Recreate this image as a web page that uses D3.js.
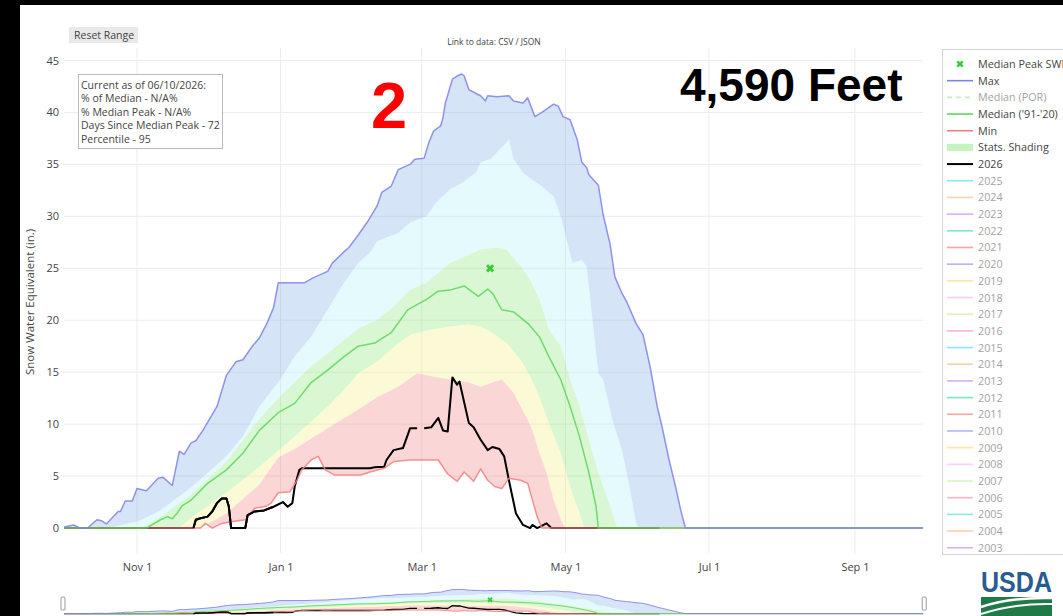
<!DOCTYPE html>
<html><head><meta charset="utf-8">
<script src="https://cdn.jsdelivr.net/npm/d3@7"></script>
<style>body{margin:0;background:#000;}svg{display:block;}</style>
</head><body>
<svg id="chart" width="1063" height="616"></svg>
<script>
// ---------------- DATA (water-year dates "MM-DD", SWE inches) ----------------
const tickDates = ["11-01","01-01","03-01","05-01","07-01","09-01"];
const yTicks = [0,5,10,15,20,25,30,35,40,45];

const maxSWE = [["10-01",0.1],["10-05",0.3],["10-08",0],["10-11",0],["10-15",0.8],["10-17",0.7],["10-19",0.4],["10-24",1.6],["10-25",1.6],["10-27",2.6],["10-30",2.6],["11-01",3.8],["11-05",3.6],["11-10",4.8],["11-12",4.9],["11-16",4.1],["11-19",7.4],["11-21",7.1],["11-24",8.2],["11-26",8.4],["11-29",9.4],["12-05",11.7],["12-09",14.7],["12-13",16.0],["12-16",16.2],["12-20",17.5],["12-23",18.3],["12-26",19.6],["12-29",21.2],["12-31",23.6],["01-11",23.6],["01-15",24.1],["01-21",24.7],["01-23",25.5],["01-28",26.6],["01-30",27.0],["02-03",28.2],["02-07",29.5],["02-11",31.0],["02-13",32.3],["02-17",32.9],["02-20",34.5],["02-25",35.0],["02-27",35.5],["03-02",35.6],["03-04",37.1],["03-06",38.2],["03-09",38.7],["03-10",39.5],["03-11",40.9],["03-14",43.2],["03-16",43.5],["03-18",43.7],["03-19",43.5],["03-21",42.2],["03-25",41.7],["03-26",41.6],["03-28",41.1],["03-29",41.6],["04-02",41.5],["04-07",41.6],["04-09",41.1],["04-13",40.9],["04-15",41.4],["04-18",39.6],["04-21",40.0],["04-26",40.8],["04-28",40.6],["04-30",39.6],["05-03",39.3],["05-06",37.4],["05-08",35.2],["05-10",34.7],["05-11",34.0],["05-15",33.0],["05-17",30.2],["05-20",27.3],["05-22",24.2],["05-25",22.6],["05-27",21.8],["05-31",19.7],["06-03",18.6],["06-06",15.5],["06-09",11.7],["06-11",9.8],["06-14",6.6],["06-17",3.8],["06-19",1.7],["06-21",0],["09-30",0]];

const pct90 = [["10-01",0],["10-20",0],["11-02",0.7],["11-11",1.7],["11-24",3.9],["12-09",6.9],["12-16",8.8],["12-23",11.7],["12-31",14.0],["01-07",16.5],["01-14",18.4],["01-21",21.0],["01-28",23.6],["02-03",25.5],["02-08",26.5],["02-11",27.6],["02-20",28.4],["02-25",29.4],["03-03",30.0],["03-07",31.3],["03-13",32.6],["03-18",33.2],["03-24",34.2],["03-26",35.2],["03-30",35.5],["04-03",36.4],["04-06",37.1],["04-07",37.4],["04-09",35.5],["04-13",34.2],["04-17",33.5],["04-21",32.9],["04-24",32.3],["04-26",31.9],["04-29",30.0],["05-04",25.5],["05-08",25.8],["05-10",25.2],["05-15",14.9],["05-17",14.3],["05-21",10.4],["05-25",7.5],["05-28",4.3],["05-31",0.5],["06-01",0],["09-30",0]];

const pct70 = [["10-01",0],["11-03",0],["11-11",1.1],["11-24",3.2],["12-09",6.4],["12-23",10.5],["12-31",12.5],["01-14",15.6],["01-21",16.8],["02-03",19.2],["02-11",20.0],["02-18",21.3],["02-25",22.9],["03-03",23.6],["03-13",25.5],["03-26",26.8],["04-02",27.0],["04-06",26.8],["04-12",25.2],["04-16",23.9],["04-20",22.0],["04-24",19.1],["04-29",17.5],["05-03",14.3],["05-07",11.7],["05-11",8.5],["05-15",5.3],["05-20",2.1],["05-23",0],["09-30",0]];

const medianSWE = [["10-01",0],["11-05",0],["11-11",0.8],["11-14",1.1],["11-16",0.9],["11-18",1.4],["11-20",2.1],["11-24",2.7],["12-01",4.3],["12-09",5.6],["12-16",7.2],["12-23",9.4],["12-31",11.1],["01-07",12.0],["01-14",14.0],["01-21",15.2],["01-28",16.5],["02-03",17.5],["02-10",17.8],["02-17",18.8],["02-24",21.0],["03-03",22.0],["03-08",22.8],["03-13",22.9],["03-19",23.3],["03-25",22.3],["03-29",23.0],["03-31",22.6],["04-04",21.0],["04-09",20.8],["04-15",19.7],["04-20",18.4],["04-24",16.5],["04-29",14.3],["05-03",11.7],["05-07",8.8],["05-11",5.3],["05-14",2.1],["05-15",0],["09-30",0]];

const pct30 = [["10-01",0],["11-19",0],["11-24",1.0],["12-09",3.4],["12-23",5.9],["01-07",8.8],["01-21",11.7],["01-28",13.3],["02-03",14.9],["02-11",16.0],["02-18",17.4],["02-25",18.6],["03-05",19.1],["03-13",19.4],["03-21",19.6],["03-26",19.4],["03-31",18.8],["04-06",17.8],["04-12",16.2],["04-16",14.6],["04-20",12.6],["04-24",10.1],["04-29",7.2],["05-03",4.0],["05-07",1.4],["05-09",0],["09-30",0]];

const pct10 = [["10-01",0],["11-28",0],["12-09",1.4],["12-23",4.2],["12-31",6.8],["01-07",7.6],["01-21",9.6],["02-03",11.4],["02-11",12.6],["02-20",13.6],["02-28",14.9],["03-05",14.6],["03-13",14.3],["03-21",14.0],["03-26",13.6],["03-31",14.0],["04-04",14.3],["04-09",13.0],["04-12",11.7],["04-15",10.4],["04-17",9.4],["04-20",7.2],["04-23",5.3],["04-26",2.7],["04-29",0.8],["05-01",0],["09-30",0]];

const minSWE = [["10-01",0],["11-28",0],["11-30",0.45],["12-03",0],["12-07",0.45],["12-11",0.6],["12-17",0.8],["12-21",1.9],["12-26",2.1],["12-28",2.4],["12-31",3.4],["01-05",3.5],["01-08",4.6],["01-10",5.6],["01-14",6.55],["01-17",6.9],["01-20",5.6],["01-24",5.1],["02-04",5.1],["02-08",5.4],["02-14",5.75],["02-18",6.4],["02-25",6.55],["03-08",6.55],["03-12",5.2],["03-16",4.5],["03-19",5.4],["03-23",4.5],["03-26",5.7],["03-29",4.6],["04-01",4.0],["04-04",3.8],["04-07",4.8],["04-12",4.6],["04-15",4.3],["04-17",2.7],["04-19",1.1],["04-21",0],["09-30",0]];

const wy2026 = [["10-01",0],["11-25",0],["11-26",0.8],["11-28",0.95],["12-01",1.1],["12-03",1.6],["12-05",2.4],["12-07",2.85],["12-09",2.85],["12-10",2.1],["12-11",0],["12-17",0],["12-18",1.25],["12-21",1.6],["12-25",1.7],["12-29",2.05],["01-02",2.5],["01-04",2.05],["01-06",2.4],["01-07",4.0],["01-09",5.6],["01-10",5.75],["02-08",5.75],["02-10",5.85],["02-14",5.9],["02-15",6.55],["02-18",7.5],["02-22",7.7],["02-25",9.6],["02-28",9.6],["02-29",null],["03-02",9.6],["03-05",9.7],["03-08",10.6],["03-10",9.4],["03-12",9.3],["03-14",14.5],["03-16",13.8],["03-17",14.1],["03-21",10.1],["03-23",9.7],["03-26",8.5],["03-29",7.5],["03-31",7.8],["04-03",7.6],["04-05",6.9],["04-07",4.6],["04-10",1.4],["04-13",0.3],["04-16",0],["04-17",0.3],["04-19",0],["04-23",0.45],["04-25",0],["06-10",0]];

const medianPeak = [["03-30",25.0]];

const infoLines = ["Current as of 06/10/2026:","% of Median - N/A%","% Median Peak - N/A%","Days Since Median Peak - 72","Percentile - 95"];
const legendTop = [
  {label:"Median Peak SWE", kind:"marker", color:"#33cc33", on:true},
  {label:"Max", kind:"line", color:"#8080e6", on:true},
  {label:"Median (POR)", kind:"dash", color:"#8fe08f", on:false},
  {label:"Median ('91-'20)", kind:"line", color:"#5cd65c", on:true},
  {label:"Min", kind:"line", color:"#f08080", on:true},
  {label:"Stats. Shading", kind:"band", color:"#c6f2be", on:true},
  {label:"2026", kind:"line", color:"#000000", on:true}
];
const years = [2025,2024,2023,2022,2021,2020,2019,2018,2017,2016,2015,2014,2013,2012,2011,2010,2009,2008,2007,2006,2005,2004,2003];
const yearColors = ["#19d3f3","#FFA15A","#ab63fa","#00cc96","#EF553B","#636efa","#FECB52","#FF97FF","#B6E880","#FF6692","#19d3f3","#FFA15A","#ab63fa","#00cc96","#EF553B","#636efa","#FECB52","#FF97FF","#B6E880","#FF6692","#19d3f3","#FFA15A","#ab63fa"];

// ---------------- RENDER ----------------
const FONT = "'Open Sans', 'Noto Sans', Arial, sans-serif";
const svg = d3.select("#chart");
svg.append("rect").attr("width",1063).attr("height",616).attr("fill","#000");
svg.append("rect").attr("x",20).attr("y",5).attr("width",1043).attr("height",611).attr("fill","#fff");

const toDate = md => { const [m,d] = md.split("-").map(Number); return new Date(Date.UTC(m >= 10 ? 2019 : 2020, m-1, d)); };
const plot = {left:64, right:923.2, top:48, bottom:553};
const x = d3.scaleUtc().domain([toDate("10-01"), toDate("09-30")]).range([plot.left, plot.right]);
const y = d3.scaleLinear().domain([-2.4, 46.2]).range([plot.bottom, plot.top]);
const yMini = d3.scaleLinear().domain([-2.4, 46.2]).range([615, 588]);

const defs = svg.append("defs");
defs.append("clipPath").attr("id","clipMain").append("rect")
  .attr("x",plot.left).attr("y",plot.top).attr("width",plot.right-plot.left).attr("height",plot.bottom-plot.top);

// grid
const grid = svg.append("g");
grid.selectAll("line.h").data(yTicks).join("line")
  .attr("x1",plot.left).attr("x2",plot.right).attr("y1",d=>y(d)).attr("y2",d=>y(d))
  .attr("stroke","#ececec").attr("stroke-width",1);
grid.selectAll("line.v").data(tickDates).join("line")
  .attr("x1",d=>x(toDate(d))).attr("x2",d=>x(toDate(d))).attr("y1",plot.top).attr("y2",plot.bottom)
  .attr("stroke","#ececec").attr("stroke-width",1);

// axes (labels only, plotly style)
const yAxis = d3.axisLeft(y).tickValues(yTicks).tickSize(0).tickPadding(5);
const gy = svg.append("g").attr("transform",`translate(${plot.left},0)`).call(yAxis);
gy.select(".domain").remove();
gy.selectAll("text").attr("font-family",FONT).attr("font-size",11).attr("fill","#444");

const xAxis = d3.axisBottom(x).tickValues(tickDates.map(toDate)).tickFormat(d3.utcFormat("%b %-d")).tickSize(0).tickPadding(10);
const gx = svg.append("g").attr("transform",`translate(0,${plot.bottom})`).call(xAxis);
gx.select(".domain").remove();
gx.selectAll("text").attr("font-family",FONT).attr("font-size",11).attr("fill","#444");

svg.append("text").attr("transform","translate(34,302) rotate(-90)").attr("text-anchor","middle")
  .attr("font-family",FONT).attr("font-size",11.5).attr("fill","#444").text("Snow Water Equivalent (in.)");

function drawChart(g, ys, lw){
  const line = d3.line().defined(d=>d[1]!=null).x(d=>x(toDate(d[0]))).y(d=>ys(d[1]));
  const band = (up, lo) => { const a = line(up), b = line(lo.slice().reverse()); return a + "L" + b.slice(1) + "Z"; };
  const bands = [[maxSWE,pct90,"rgba(120,165,230,0.3)"],[pct90,pct70,"rgba(170,240,245,0.3)"],[pct70,pct30,"rgba(130,230,110,0.3)"],[pct30,pct10,"rgba(245,240,120,0.3)"],[pct10,minSWE,"rgba(240,120,120,0.3)"]];
  g.selectAll("path.band").data(bands).join("path").attr("class","band")
    .attr("d",d=>band(d[0],d[1])).attr("fill",d=>d[2]).attr("stroke","none");
  const lines = [[wy2026,"#000",lw*1.35],[minSWE,"#f08080",lw],[medianSWE,"#5cd65c",lw],[maxSWE,"#8080e6",lw]];
  g.selectAll("path.ln").data(lines).join("path").attr("class","ln")
    .attr("d",d=>line(d[0])).attr("fill","none").attr("stroke",d=>d[1]).attr("stroke-width",d=>d[2]).attr("stroke-linejoin","round")
    .attr("stroke-opacity",(d,i)=>i===0?1:0.85);
  // current year drawn again on top where it is above zero
  g.append("path").attr("d",line(wy2026.filter(d=>d[0] < "06-01" && d[0] >= "11-20" || d[0] > "09-00" && d[0] >= "11-20" ))).attr("fill","none")
    .attr("stroke","#000").attr("stroke-width",lw*1.35).attr("stroke-linejoin","round");
  return line;
}
const gMain = svg.append("g").attr("clip-path","url(#clipMain)");
drawChart(gMain, y, 1.5);
const xMark = d3.symbol().type(d3.symbolCross).size(42);
gMain.selectAll("path.peak").data(medianPeak).join("path").attr("class","peak")
  .attr("d",xMark).attr("fill","#33cc33")
  .attr("transform",d=>`translate(${x(toDate(d[0]))},${y(d[1])}) rotate(45)`);

// range slider
const gMini = svg.append("g");
drawChart(gMini, yMini, 1);
gMini.selectAll("path.peak").data(medianPeak).join("path").attr("class","peak")
  .attr("d",d3.symbol().type(d3.symbolCross).size(18)).attr("fill","#33cc33")
  .attr("transform",d=>`translate(${x(toDate(d[0]))},${yMini(d[1])}) rotate(45)`);
[plot.left-1, plot.right+1].forEach(hx=>{
  svg.append("rect").attr("x",hx-2).attr("y",597).attr("width",4).attr("height",13).attr("rx",1)
    .attr("fill","#fff").attr("stroke","#999").attr("stroke-width",1);
});

// reset button + link text
svg.append("rect").attr("x",69).attr("y",27).attr("width",69).attr("height",16).attr("fill","#e9e9e9");
svg.append("text").attr("x",74).attr("y",39).attr("font-family",FONT).attr("font-size",10.5).attr("fill","#444").text("Reset Range");
svg.append("text").attr("x",494).attr("y",45).attr("text-anchor","middle").attr("font-family",FONT).attr("font-size",8.5).attr("fill","#444").text("Link to data: CSV / JSON");

// info box
svg.append("rect").attr("x",78.5).attr("y",74.5).attr("width",144).attr("height",74).attr("fill","#fff").attr("stroke","#bbb");
svg.selectAll("text.info").data(infoLines).join("text").attr("class","info")
  .attr("x",81).attr("y",(d,i)=>89+i*13.4).attr("font-family",FONT).attr("font-size",10.5).attr("fill","#444").text(d=>d);

// overlay labels
svg.append("text").attr("x",371).attr("y",128).attr("font-family","'Liberation Sans', Arial, sans-serif").attr("font-weight","bold").attr("font-size",65).attr("fill","#ff0000").text("2");
svg.append("text").attr("x",680).attr("y",101).attr("font-family","'Liberation Sans', Arial, sans-serif").attr("font-weight","bold").attr("font-size",46).attr("fill","#000").text("4,590 Feet");

// legend
const lg = svg.append("g");
lg.append("rect").attr("x",942.5).attr("y",49.5).attr("width",140).attr("height",505).attr("fill","#fff").attr("stroke","#d4d4d4");
const legendItems = legendTop.concat(years.map((yr,i)=>({label:String(yr), kind:"line", color:yearColors[i], on:false})));
const li = lg.selectAll("g.item").data(legendItems).join("g").attr("class","item")
  .attr("transform",(d,i)=>`translate(0,${64 + i*16.68})`).attr("opacity",d=>d.on?1:0.5);
li.each(function(d){
  const g = d3.select(this);
  if (d.kind === "marker") {
    g.append("path").attr("d",d3.symbol().type(d3.symbolCross).size(32)).attr("fill",d.color).attr("transform","translate(960,0) rotate(45)");
  } else if (d.kind === "band") {
    g.append("rect").attr("x",947).attr("y",-3.5).attr("width",26).attr("height",7).attr("fill",d.color);
  } else {
    g.append("line").attr("x1",947).attr("x2",973).attr("y1",0).attr("y2",0).attr("stroke",d.color)
      .attr("stroke-width",d.label==="2026"?2:1.6).attr("stroke-dasharray",d.kind==="dash"?"5,4":null);
  }
  g.append("text").attr("x",978).attr("y",4).attr("font-family",FONT).attr("font-size",10.8).attr("fill","#444").text(d.label);
});

// USDA logo
svg.append("text").attr("x",981).attr("y",592).attr("font-family","'Liberation Sans Narrow','Liberation Sans',Arial,sans-serif")
  .attr("font-weight","bold").attr("font-size",29).attr("fill","#2b5c8f").attr("textLength",71).attr("lengthAdjust","spacingAndGlyphs").text("USDA");
svg.append("rect").attr("x",981).attr("y",597).attr("width",71).attr("height",19).attr("fill","#1f7a45");
svg.append("path").attr("d","M981,607 Q1010,597 1052,598").attr("stroke","#fff").attr("stroke-width",2.5).attr("fill","none");
svg.append("path").attr("d","M981,614 Q1015,603 1052,604").attr("stroke","#fff").attr("stroke-width",2).attr("fill","none");
</script>
</body></html>
